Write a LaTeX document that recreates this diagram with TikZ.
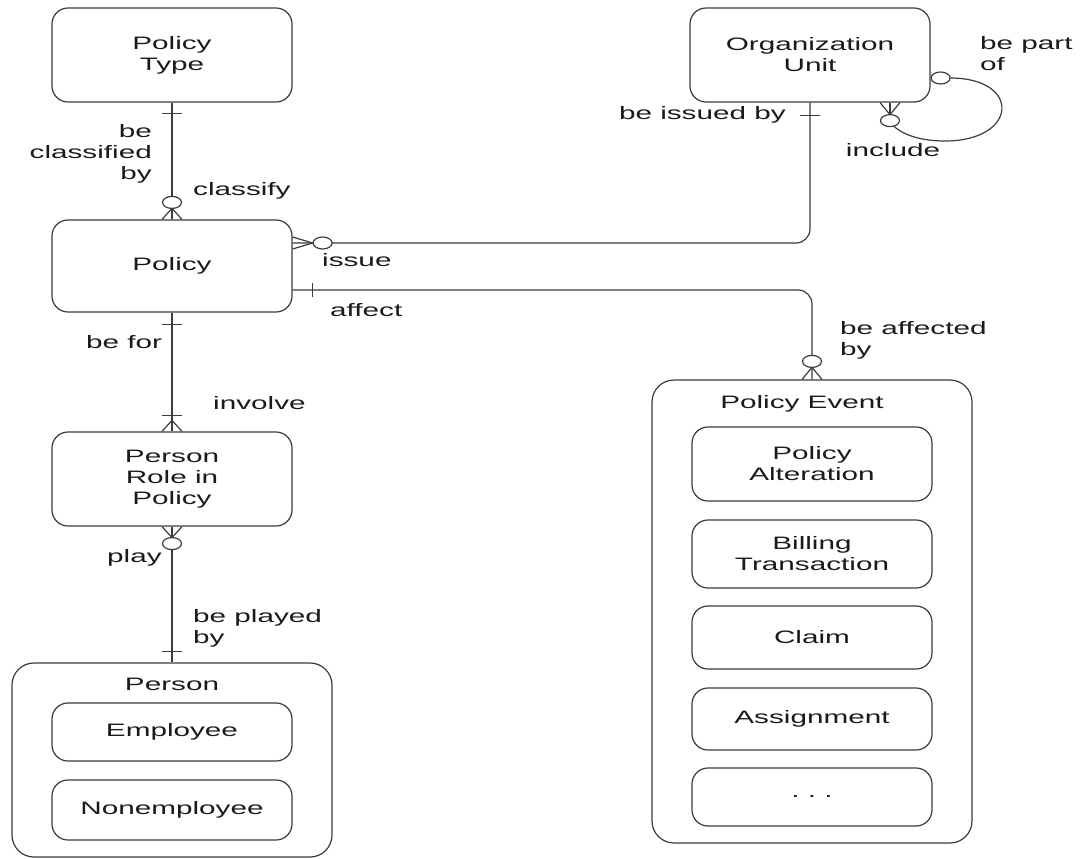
\documentclass[tikz,border=0pt]{standalone}
\usepackage{fontspec}
\setmainfont[FakeStretch=1.65]{Liberation Sans}
\usetikzlibrary{calc}
\definecolor{linec}{HTML}{3C3C3C}
\definecolor{txtc}{HTML}{1A1A1A}
\begin{document}
\begin{tikzpicture}[x=1pt,y=-1pt,
  ent/.style={draw=linec, line width=1.2pt, rounded corners=16pt, minimum width=240pt,
              align=center, text=txtc, font=\fontsize{18}{21}\selectfont, inner sep=0pt},
  group/.style={ent, minimum width=320pt, rounded corners=22pt},
  conn/.style={draw=linec, line width=1.2pt},
  lbl/.style={font=\fontsize{18}{21}\selectfont, text=txtc, inner sep=0pt, align=left},
  opt/.style={conn, fill=white},
]
\useasboundingbox (0,0) rectangle (1090,859);

% entities
\node[ent, minimum height=94pt] (ptype) at (172,55) {Policy\\Type};
\node[ent, minimum height=94pt] (ou) at (810,55) {Organization\\Unit};
\node[ent, minimum height=92pt] (policy) at (172,266) {Policy};
\node[ent, minimum height=94pt] (prole) at (172,479) {Person\\Role in\\Policy};

\node[group, minimum height=194pt] (person) at (172,760) {};
\node[lbl] (persont) at (172,684) {Person};
\node[ent, minimum height=58pt] (emp) at (172,732) {Employee};
\node[ent, minimum height=60pt] (nonemp) at (172,810) {Nonemployee};

\node[group, minimum height=463pt] (pevent) at (812,611.5) {};
\node[lbl] (pevt) at (802,404) {Policy Event};
\node[ent, minimum height=74pt] (palt) at (812,464) {Policy\\Alteration};
\node[ent, minimum height=68pt] (bill) at (812,554) {Billing\\Transaction};
\node[ent, minimum height=63pt] (claim) at (812,637.5) {Claim};
\node[ent, minimum height=62pt] (assign) at (812,719) {Assignment};
\node[ent, minimum height=58pt] (more) at (812,797) {.\ .\ .};

% Policy Type -- Policy
\draw[conn] (ptype.south) -- (policy.north);
\draw[conn] ($(ptype.south)+(-10,11)$) -- ($(ptype.south)+(10,11)$);
\draw[conn] ($(policy.north)+(-10,0)$) -- ($(policy.north)+(0,-11)$) -- ($(policy.north)+(10,0)$);
\draw[opt] ($(policy.north)+(0,-17)$) ellipse [x radius=9.5pt, y radius=6pt];

% Policy -- Person Role in Policy
\draw[conn] (policy.south) -- (prole.north);
\draw[conn] ($(policy.south)+(-10,12)$) -- ($(policy.south)+(10,12)$);
\draw[conn] ($(prole.north)+(-10,-16)$) -- ($(prole.north)+(10,-16)$);
\draw[conn] ($(prole.north)+(-10,0)$) -- ($(prole.north)+(0,-11)$) -- ($(prole.north)+(10,0)$);

% Person Role in Policy -- Person
\draw[conn] (prole.south) -- (person.north);
\draw[conn] ($(prole.south)+(-10,0)$) -- ($(prole.south)+(0,11)$) -- ($(prole.south)+(10,0)$);
\draw[opt] ($(prole.south)+(0,17)$) ellipse [x radius=9.5pt, y radius=6pt];
\draw[conn] ($(person.north)+(-10,-11)$) -- ($(person.north)+(10,-11)$);

% Policy -- Organization Unit
\coordinate (iss) at ($(policy.east)+(0,-23)$);
\draw[conn, rounded corners=14pt] (iss) -- (iss -| ou.south) -- (ou.south);
\draw[conn] ($(iss)+(0,-6)$) -- ($(iss)+(20,0)$) -- ($(iss)+(0,6)$);
\draw[opt] ($(iss)+(30,0)$) ellipse [x radius=9.5pt, y radius=6pt];
\draw[conn] ($(ou.south)+(-10,13)$) -- ($(ou.south)+(10,13)$);

% Policy -- Policy Event
\coordinate (aff) at ($(policy.east)+(0,24)$);
\draw[conn, rounded corners=14pt] (aff) -- (aff -| pevent.north) -- (pevent.north);
\draw[conn] ($(aff)+(20,-7)$) -- ($(aff)+(20,7)$);
\draw[conn] ($(pevent.north)+(-10,0)$) -- ($(pevent.north)+(0,-12)$) -- ($(pevent.north)+(10,0)$);
\draw[opt] ($(pevent.north)+(0,-18)$) ellipse [x radius=9.5pt, y radius=6pt];

% Organization Unit hierarchy
\coordinate (po) at ($(ou.east)+(10,23)$);
\coordinate (inc) at ($(ou.south)+(80,18)$);
\draw[conn] ($(po)+(9.5,0)$) .. controls (1022,78) and (1018,141) .. (945,141)
            .. controls (915,141) and (900,132) .. ($(inc)+(3,5)$);
\draw[conn] ($(ou.south)+(70,0)$) -- ($(ou.south)+(80,12)$) -- ($(ou.south)+(90,0)$);
\draw[conn] ($(ou.south)+(80,0)$) -- ($(ou.south)+(80,12)$);
\draw[opt] (po) ellipse [x radius=9.5pt, y radius=6pt];
\draw[opt] (inc) ellipse [x radius=9.5pt, y radius=6pt];

% relationship labels
\node[lbl, anchor=east, align=right] (lbcb) at (152,154) {be\\classified\\by};
\node[lbl, anchor=west] (lcl) at (193,191) {classify};
\node[lbl, anchor=west] (liss) at (322,260) {issue};
\node[lbl, anchor=west] (laff) at (330,310) {affect};
\node[lbl, anchor=east] (lbib) at (786,115) {be issued by};
\node[lbl, anchor=west] (lbpo) at (980,54) {be part\\of};
\node[lbl] (linc) at (893,150) {include};
\node[lbl, anchor=west] (lbab) at (840,340) {be affected\\by};
\node[lbl, anchor=west] (lbf) at (86,342) {be for};
\node[lbl, anchor=west] (linv) at (213,403) {involve};
\node[lbl, anchor=west] (lplay) at (107,558) {play};
\node[lbl, anchor=west] (lbpb) at (193,628) {be played\\by};
\end{tikzpicture}
\end{document}
